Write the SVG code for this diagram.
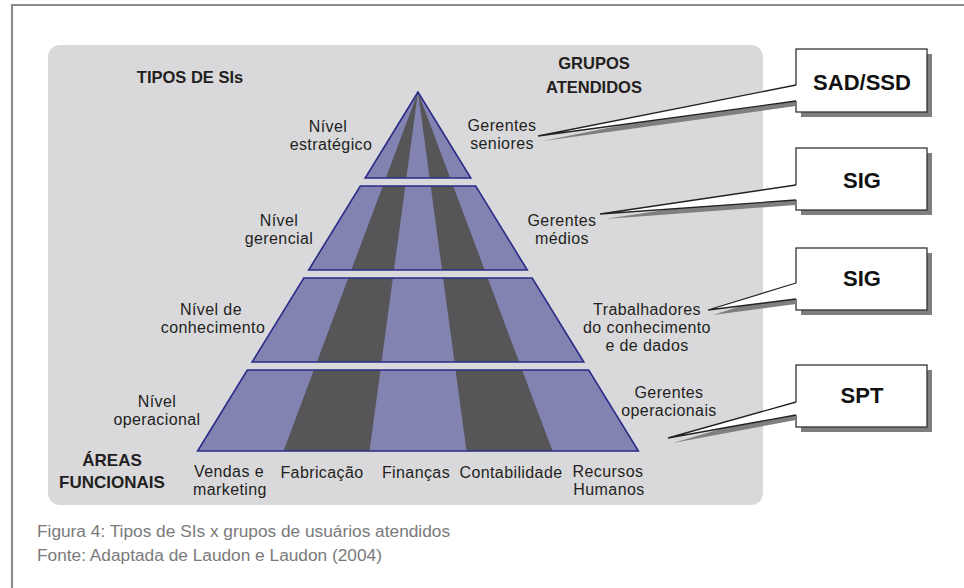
<svg xmlns="http://www.w3.org/2000/svg" width="964" height="588" viewBox="0 0 964 588">
<style>
.t{font-family:"Liberation Sans",Arial,sans-serif;font-size:16px;letter-spacing:0.4px;fill:#231f20;text-anchor:middle}
.b{font-family:"Liberation Sans",Arial,sans-serif;font-size:16.5px;font-weight:bold;fill:#231f20;text-anchor:middle}
.bx{font-family:"Liberation Sans",Arial,sans-serif;font-size:22px;font-weight:bold;fill:#111;text-anchor:middle}
.cap{font-family:"Liberation Sans",Arial,sans-serif;font-size:17.3px;fill:#7a7a7a}
.lt{fill:#8383b1}
.dk{fill:#565659}
.ol{fill:none;stroke:#2b2b88;stroke-width:1.6;stroke-linejoin:miter}
.sh{fill:#7f7f7f}
.box{fill:#fff;stroke:#333;stroke-width:1.3}
.tw{fill:#fff}
.te{fill:none;stroke:#222;stroke-width:1.3;stroke-linejoin:miter}
</style>
<rect width="964" height="588" fill="#fff"/>
<path d="M12,588 V5 H964" fill="none" stroke="#8c8c8c" stroke-width="2.2"/>
<rect id="panel" x="48" y="45" width="715" height="460" rx="12" fill="#d9d9dc"/>

<g id="tier1">
<polygon class="lt" points="418,92 365.2,178 470.8,178"/>
<polygon class="dk" points="418,92 385.8,178 406.4,178"/>
<polygon class="dk" points="418,92 429.6,178 450.2,178"/>
<polygon class="ol" points="418,92 365.2,178 470.8,178"/>
</g>
<g id="tier2">
<polygon class="lt" points="360.3,186 475.7,186 527.3,270 308.7,270"/>
<polygon class="dk" points="382.8,186 405.3,186 394,270 351.3,270"/>
<polygon class="dk" points="430.7,186 453.2,186 484.7,270 442,270"/>
<polygon class="ol" points="360.3,186 475.7,186 527.3,270 308.7,270"/>
</g>
<g id="tier3">
<polygon class="lt" points="303.8,278 532.2,278 583.8,362 252.2,362"/>
<polygon class="dk" points="348.3,278 392.9,278 381.5,362 316.9,362"/>
<polygon class="dk" points="443.1,278 487.7,278 519.1,362 454.5,362"/>
<polygon class="ol" points="303.8,278 532.2,278 583.8,362 252.2,362"/>
</g>
<g id="tier4">
<polygon class="lt" points="247.3,370 588.7,370 638.4,451 197.6,451"/>
<polygon class="dk" points="313.9,370 380.5,370 369.5,451 283.5,451"/>
<polygon class="dk" points="455.5,370 522.1,370 552.5,451 466.5,451"/>
<polygon class="ol" points="247.3,370 588.7,370 638.4,451 197.6,451"/>
</g>

<g id="headings">
<text class="b" x="190" y="83">TIPOS DE SIs</text>
<text class="b" x="594" y="69">GRUPOS</text>
<text class="b" x="594" y="93">ATENDIDOS</text>
<text class="b" x="112" y="466" style="font-size:17px">ÁREAS</text>
<text class="b" x="112" y="488" style="font-size:17px">FUNCIONAIS</text>
</g>

<g id="levels">
<text class="t" x="328" y="132">Nível</text>
<text class="t" x="331" y="150">estratégico</text>
<text class="t" x="279" y="226">Nível</text>
<text class="t" x="279" y="244">gerencial</text>
<text class="t" x="211" y="315">Nível de</text>
<text class="t" x="213" y="333">conhecimento</text>
<text class="t" x="157" y="407">Nível</text>
<text class="t" x="157" y="425">operacional</text>
</g>

<g id="groups">
<text class="t" x="502" y="131">Gerentes</text>
<text class="t" x="502" y="149">seniores</text>
<text class="t" x="562" y="226">Gerentes</text>
<text class="t" x="562" y="244">médios</text>
<text class="t" x="647" y="315">Trabalhadores</text>
<text class="t" x="647" y="333">do conhecimento</text>
<text class="t" x="647" y="351">e de dados</text>
<text class="t" x="669" y="398">Gerentes</text>
<text class="t" x="669" y="416">operacionais</text>
</g>

<g id="areas">
<text class="t" x="229" y="477">Vendas e</text>
<text class="t" x="230" y="495">marketing</text>
<text class="t" x="322" y="478">Fabricação</text>
<text class="t" x="416" y="478">Finanças</text>
<text class="t" x="511" y="478">Contabilidade</text>
<text class="t" x="608" y="477">Recursos</text>
<text class="t" x="609" y="495">Humanos</text>
</g>

<g id="box-sad">
<rect class="sh" x="801" y="54" width="131" height="63"/>
<rect class="box" x="796" y="49" width="131" height="63"/>
<text class="bx" x="862" y="90">SAD/SSD</text>
</g>
<g id="box-sig1">
<rect class="sh" x="801" y="153" width="131" height="62"/>
<rect class="box" x="796" y="148" width="131" height="62"/>
<text class="bx" x="862" y="188">SIG</text>
</g>
<g id="box-sig2">
<rect class="sh" x="801" y="253" width="131" height="62"/>
<rect class="box" x="796" y="248" width="131" height="62"/>
<text class="bx" x="862" y="286">SIG</text>
</g>
<g id="box-spt">
<rect class="sh" x="801" y="370" width="131" height="62"/>
<rect class="box" x="796" y="365" width="131" height="62"/>
<text class="bx" x="862" y="403">SPT</text>
</g>

<g id="connectors">
<polygon class="sh" points="796,90 543,141 796,106"/>
<polygon class="tw" points="797,85 538,136 797,101"/>
<polyline class="te" points="796,85 538,136 796,101"/>

<polygon class="sh" points="796,190 605,219 796,205"/>
<polygon class="tw" points="797,185 600,214 797,200"/>
<polyline class="te" points="796,185 600,214 796,200"/>

<polygon class="sh" points="796,288 713,315 796,304"/>
<polygon class="tw" points="797,283 708,310 797,299"/>
<polyline class="te" points="796,283 708,310 796,299"/>

<polygon class="sh" points="796,407 673,443 796,420"/>
<polygon class="tw" points="797,402 668,438 797,415"/>
<polyline class="te" points="796,402 668,438 796,415"/>
</g>

<g id="caption">
<text class="cap" x="37" y="537">Figura 4: Tipos de SIs x grupos de usuários atendidos</text>
<text class="cap" x="37" y="561">Fonte: Adaptada de Laudon e Laudon (2004)</text>
</g>
</svg>
